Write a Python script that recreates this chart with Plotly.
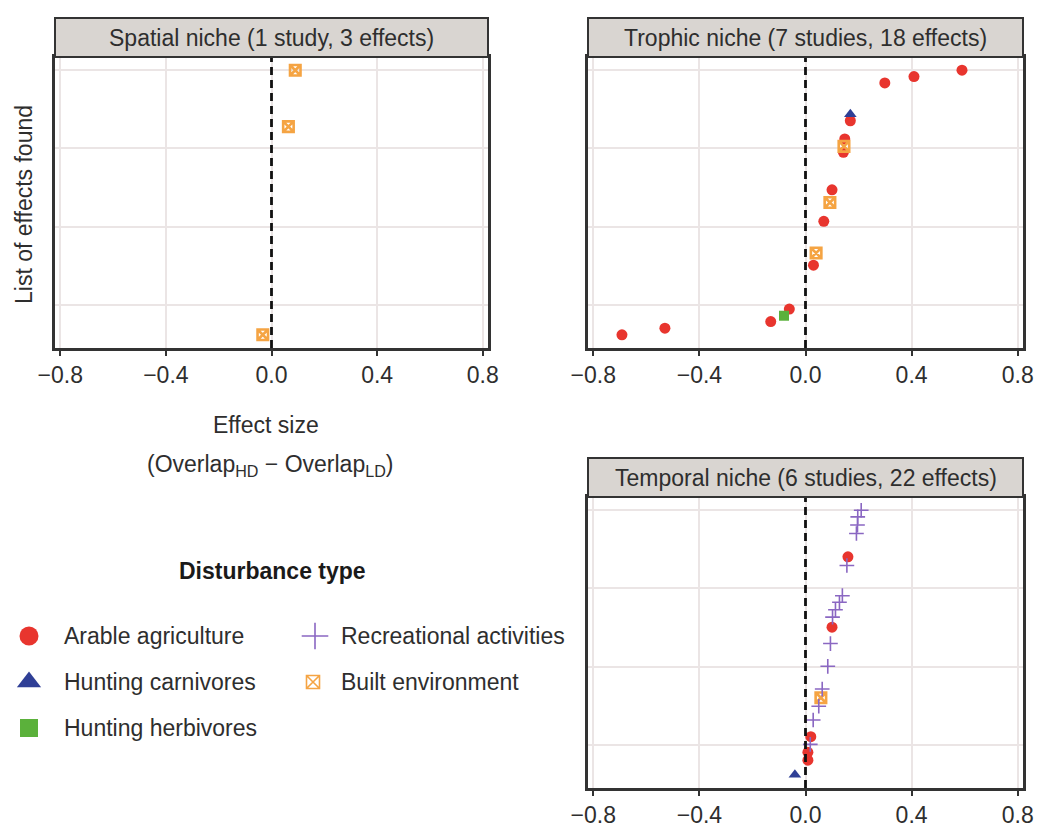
import plotly.graph_objects as go

W, H = 1038, 830

# Effect size (Overlap_HD - Overlap_LD), disturbance type and list position for each niche
spatial_effect = [-0.033, 0.064, 0.090]
spatial_type = ["Built environment", "Built environment", "Built environment"]
spatial_pos = [0.0, 0.787, 1.0]

trophic_effect = [-0.692, -0.530, -0.131, -0.081, -0.061, 0.030, 0.040, 0.069, 0.092,
                  0.100, 0.143, 0.145, 0.148, 0.169, 0.169, 0.299, 0.409, 0.590]
trophic_type = ["Arable agriculture", "Arable agriculture", "Arable agriculture",
                "Hunting herbivores", "Arable agriculture", "Arable agriculture",
                "Built environment", "Arable agriculture", "Built environment",
                "Arable agriculture", "Arable agriculture", "Built environment",
                "Arable agriculture", "Arable agriculture", "Hunting carnivores",
                "Arable agriculture", "Arable agriculture", "Arable agriculture"]
trophic_pos = [0.0, 0.025, 0.050, 0.072, 0.097, 0.263, 0.309, 0.429, 0.500,
               0.548, 0.690, 0.712, 0.740, 0.809, 0.834, 0.952, 0.976, 1.0]

temporal_effect = [-0.040, 0.009, 0.009, 0.018, 0.020, 0.029, 0.050, 0.058, 0.063,
                   0.084, 0.094, 0.100, 0.102, 0.113, 0.128, 0.139, 0.156, 0.160,
                   0.192, 0.196, 0.197, 0.210]
temporal_type = ["Hunting carnivores", "Arable agriculture", "Arable agriculture",
                 "Recreational activities", "Arable agriculture", "Recreational activities",
                 "Recreational activities", "Built environment", "Recreational activities",
                 "Recreational activities", "Recreational activities", "Arable agriculture",
                 "Recreational activities", "Recreational activities", "Recreational activities",
                 "Recreational activities", "Recreational activities", "Arable agriculture",
                 "Recreational activities", "Recreational activities", "Recreational activities",
                 "Recreational activities"]
temporal_pos = [0.0, 0.055, 0.085, 0.115, 0.144, 0.207, 0.259, 0.291, 0.324, 0.410, 0.496,
                0.558, 0.596, 0.624, 0.652, 0.677, 0.791, 0.824, 0.912, 0.944, 0.975, 1.0]

panel_titles = ["Spatial niche (1 study, 3 effects)",
                "Trophic niche (7 studies, 18 effects)",
                "Temporal niche (6 studies, 22 effects)"]

x_ticks = [-0.8, -0.4, 0.0, 0.4, 0.8]
y_grid = [0.113, 0.409, 0.705, 1.0]

disturbance_types = ["Arable agriculture", "Hunting carnivores", "Hunting herbivores",
                     "Built environment", "Recreational activities"]

FONT = "Liberation Sans, Arial, Helvetica, sans-serif"
FS = 23
TEXT = "#2e2e2e"
FRAME = "#333333"

# marker look per disturbance type (panel size, legend size)
STYLE = {
    "Arable agriculture": dict(symbol="circle", color="#e8352e", size=11, lsize=19, lw=0),
    "Hunting carnivores": dict(symbol="triangle-up", color="#2f3f96", size=11, lsize=21, lw=0),
    "Hunting herbivores": dict(symbol="square", color="#5bb13b", size=10, lsize=18, lw=0),
    "Built environment": dict(symbol="square-x-open", color="#f5a443", size=10.5, lsize=13, lw=2.6),
    "Recreational activities": dict(symbol="cross-thin-open", color="#8a67c2", size=10.5, lsize=19, lw=1.6),
}


def marker(kind, legend=False):
    s = STYLE[kind]
    m = dict(symbol=s["symbol"], color=s["color"], size=s["lsize"] if legend else s["size"])
    if s["lw"]:
        m["line"] = dict(color=s["color"], width=(1.6 if legend else s["lw"]))
    else:
        m["line"] = dict(width=0)
    return m


# panel rectangles in pixels: (left, top, right, bottom) of plotting area
panels = [(55, 57, 488, 348), (588, 57, 1023, 348), (588, 497, 1023, 788)]
strip_h = 39

fig = go.Figure()

datasets = [(spatial_effect, spatial_type, spatial_pos),
            (trophic_effect, trophic_type, trophic_pos),
            (temporal_effect, temporal_type, temporal_pos)]

for i, (eff, typ, pos) in enumerate(datasets):
    ax = "" if i == 0 else str(i + 1)
    for kind in disturbance_types:
        xs = [e for e, t in zip(eff, typ) if t == kind]
        ys = [p for p, t in zip(pos, typ) if t == kind]
        if not xs:
            continue
        fig.add_trace(go.Scatter(x=xs, y=ys, mode="markers", marker=marker(kind),
                                 name=kind, showlegend=False, hoverinfo="skip",
                                 xaxis="x" + ax, yaxis="y" + ax, cliponaxis=False))

layout_axes = {}
for i, (l, t, r, b) in enumerate(panels):
    key = "" if i == 0 else str(i + 1)
    layout_axes["xaxis" + key] = dict(
        domain=[l / W, r / W], anchor="y" + key, range=[-0.82, 0.82],
        tickvals=x_ticks, tickformat=".1f", ticks="outside", ticklen=5, tickwidth=2,
        tickcolor=FRAME, showline=True, mirror=True, linecolor=FRAME, linewidth=2.5,
        showgrid=True, gridcolor="#ebe5e5", gridwidth=1.5, zeroline=False,
        tickfont=dict(family=FONT, size=FS, color=TEXT), ticklabelstandoff=0,
        automargin=False,
    )
    layout_axes["yaxis" + key] = dict(
        domain=[1 - b / H, 1 - t / H], anchor="x" + key, range=[-0.05, 1.05],
        tickvals=y_grid, showticklabels=False, ticks="", showline=True, mirror=True,
        linecolor=FRAME, linewidth=2.5, showgrid=True, gridcolor="#ebe5e5",
        gridwidth=1.5, zeroline=False, automargin=False,
    )

shapes = []
annotations = []
for i, (l, t, r, b) in enumerate(panels):
    key = "" if i == 0 else str(i + 1)
    # reference line at zero effect
    shapes.append(dict(type="line", xref="x" + key, yref="y" + key + " domain",
                       x0=0, x1=0, y0=0, y1=1, layer="above",
                       line=dict(color="#111111", width=2.8, dash="8px,5px")))
    # facet strip
    shapes.append(dict(type="rect", xref="paper", yref="paper",
                       x0=l / W, x1=r / W, y0=1 - t / H, y1=1 - (t - strip_h) / H,
                       fillcolor="#d9d5d1", line=dict(color=FRAME, width=2)))
    annotations.append(dict(text=panel_titles[i], xref="paper", yref="paper",
                            x=(l + r) / 2 / W, y=1 - (t - strip_h / 2) / H,
                            xanchor="center", yanchor="middle", showarrow=False,
                            font=dict(family=FONT, size=FS, color=TEXT)))

# axis titles
annotations.append(dict(text="List of effects found", xref="paper", yref="paper",
                        x=24 / W, y=1 - 205 / H, textangle=-90, showarrow=False,
                        xanchor="center", yanchor="middle",
                        font=dict(family=FONT, size=FS, color=TEXT)))
annotations.append(dict(text="Effect size", xref="paper", yref="paper",
                        x=266 / W, y=1 - 425 / H, showarrow=False,
                        xanchor="center", yanchor="middle",
                        font=dict(family=FONT, size=FS, color=TEXT)))
annotations.append(dict(text="(Overlap<sub>HD</sub> \u2212 Overlap<sub>LD</sub>)",
                        xref="paper", yref="paper", x=270 / W, y=1 - 465 / H,
                        showarrow=False, xanchor="center", yanchor="middle",
                        font=dict(family=FONT, size=FS, color=TEXT)))

# legend
annotations.append(dict(text="<b>Disturbance type</b>", xref="paper", yref="paper",
                        x=272 / W, y=1 - 571 / H, showarrow=False,
                        xanchor="center", yanchor="middle",
                        font=dict(family=FONT, size=FS, color="#1a1a1a")))

legend_slots = {
    "Arable agriculture": (29, 636, 62),
    "Hunting carnivores": (29, 682, 62),
    "Hunting herbivores": (29, 728, 62),
    "Recreational activities": (315, 636, 339),
    "Built environment": (313, 682, 339),
}
for kind in disturbance_types:
    mx, my, tx = legend_slots[kind]
    fig.add_trace(go.Scatter(x=[mx], y=[my], mode="markers", marker=marker(kind, legend=True),
                             showlegend=False, hoverinfo="skip", xaxis="x4", yaxis="y4"))
    annotations.append(dict(text=kind, xref="paper", yref="paper", x=tx / W, y=1 - my / H,
                            xanchor="left", yanchor="middle", showarrow=False,
                            font=dict(family=FONT, size=FS, color=TEXT)))

layout_axes["xaxis4"] = dict(domain=[0, 1], range=[0, W], anchor="y4", visible=False,
                             fixedrange=True, automargin=False)
layout_axes["yaxis4"] = dict(domain=[0, 1], range=[H, 0], anchor="x4", visible=False,
                             fixedrange=True, automargin=False)

fig.update_layout(
    width=W, height=H, margin=dict(l=0, r=0, t=0, b=0, autoexpand=False),
    paper_bgcolor="white", plot_bgcolor="rgba(0,0,0,0)",
    shapes=shapes, annotations=annotations, showlegend=False,
    **layout_axes,
)

fig.write_html("out.html")
